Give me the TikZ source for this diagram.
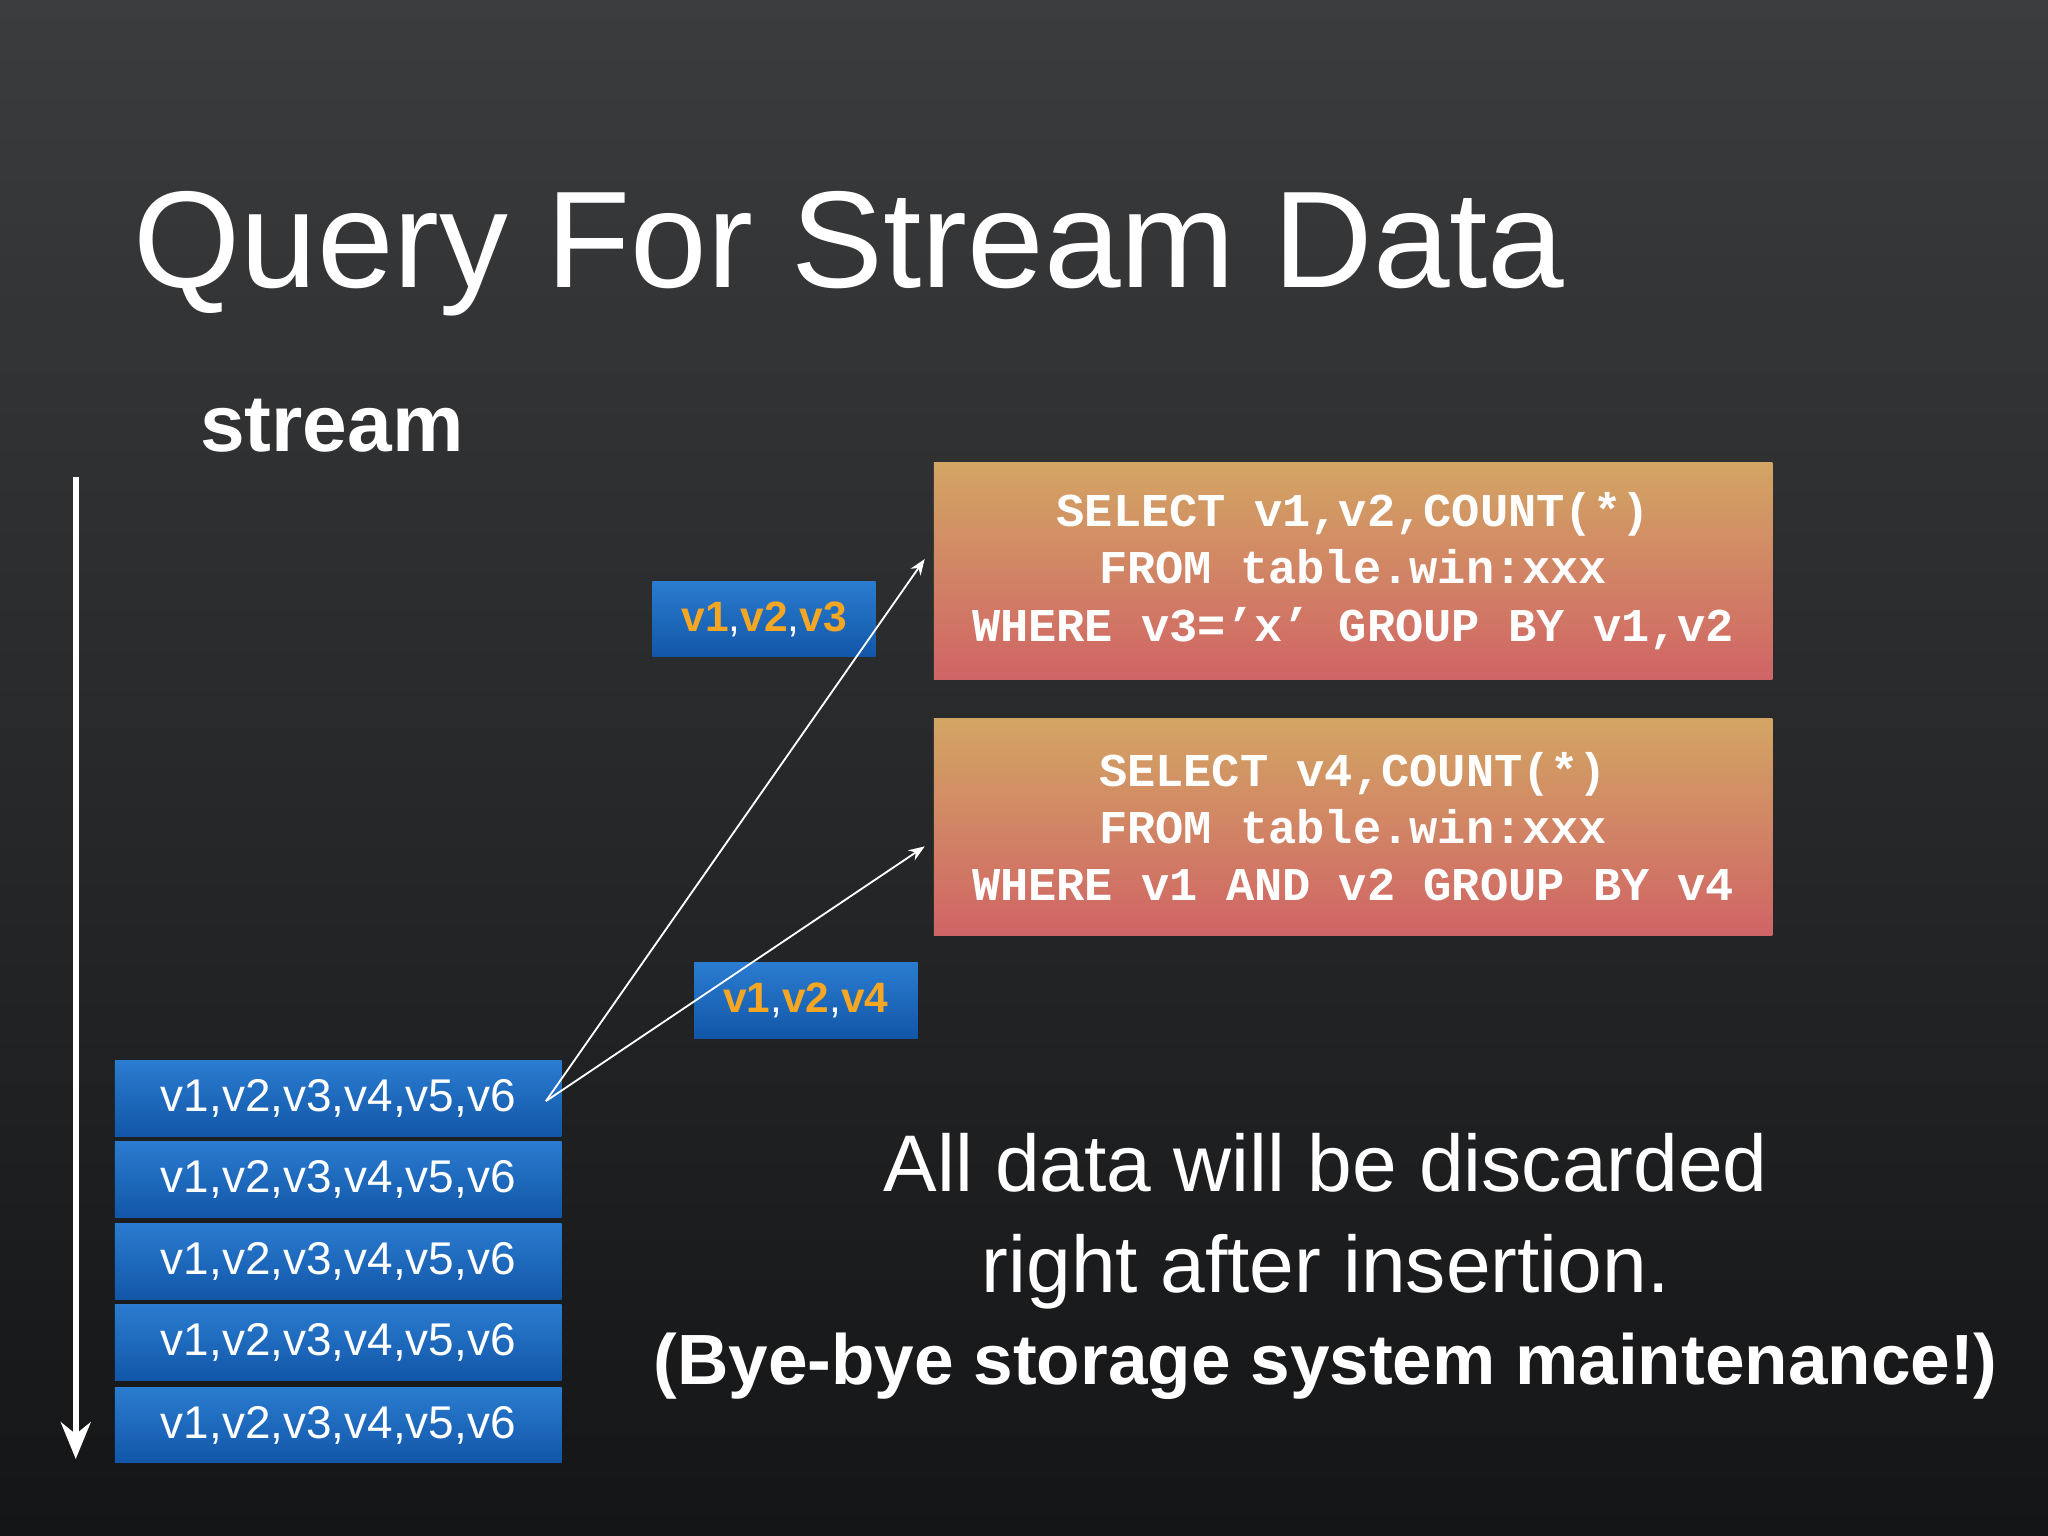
\documentclass[tikz,border=0pt]{standalone}
\usepackage{fontspec}
\setmainfont{Liberation Sans}
\newfontfamily\codefont{Liberation Mono}
\usetikzlibrary{arrows.meta}
\definecolor{bgtop}{HTML}{3A3C3E}
\definecolor{bgbot}{HTML}{141516}
\definecolor{bluea}{HTML}{2A7CD0}
\definecolor{blueb}{HTML}{1256A8}
\definecolor{sqltop}{HTML}{D3A564}
\definecolor{sqlbot}{HTML}{D06465}
\definecolor{vorange}{HTML}{F5A623}
\tikzset{
  x=0.02cm,y=-0.02cm,
  rowbox/.style={minimum width=6.84cm,minimum height=1.16cm,top color=bluea,bottom color=blueb,draw=none,text=white,inner sep=0pt,font=\fontsize{20}{20}\selectfont},
  tagbox/.style={minimum width=3.42cm,minimum height=1.16cm,top color=bluea,bottom color=blueb,draw=none,inner sep=0pt,font=\fontsize{18.5}{18.5}\selectfont},
  sqlbox/.style={minimum width=12.84cm,minimum height=3.32cm,top color=sqltop,bottom color=sqlbot,draw=none,text=white,align=center,inner sep=0pt,font=\codefont\bfseries\fontsize{20.5}{25}\selectfont},
  flow/.style={draw=white,line width=0.8pt,-{Stealth[length=7pt]}},
}
\newcommand{\vo}[1]{\textcolor{vorange}{\bfseries #1}}
\begin{document}
\begin{tikzpicture}
\shade[top color=bgtop,bottom color=bgbot] (0,0) rectangle (1568,1176);
\useasboundingbox (0,0) rectangle (1568,1176);
\node[anchor=base west,text=white,inner sep=0pt,font=\fontsize{60}{60}\selectfont] (title) at (102,220) {Query For Stream Data};
\node[anchor=base west,text=white,inner sep=0pt,font=\bfseries\fontsize{35}{35}\selectfont] (stream) at (153,346) {stream};
\coordinate (ta) at (58,365);
\coordinate (tb) at (58,1117);
\draw[white,line width=2.5pt,-{Stealth[length=16pt,width=13pt]}] (ta) -- (tb);
\node[rowbox] (r1) at (259,841) {v1,v2,v3,v4,v5,v6};
\node[rowbox] (r2) at (259,903) {v1,v2,v3,v4,v5,v6};
\node[rowbox] (r3) at (259,966) {v1,v2,v3,v4,v5,v6};
\node[rowbox] (r4) at (259,1028) {v1,v2,v3,v4,v5,v6};
\node[rowbox] (r5) at (259,1091) {v1,v2,v3,v4,v5,v6};
\node[sqlbox] (q1) at (1036,437) {SELECT v1,v2,COUNT(*)\\FROM table.win:xxx\\WHERE v3=’x’ GROUP BY v1,v2};
\node[sqlbox] (q2) at (1036,633) {SELECT v4,COUNT(*)\\FROM table.win:xxx\\WHERE v1 AND v2 GROUP BY v4};
\node[tagbox,text=white] (t1) at (585,474) {\vo{v1},\vo{v2},\vo{v3}};
\node[tagbox,text=white] (t2) at (617,766) {\vo{v1},\vo{v2},\vo{v4}};
\coordinate (src) at (418,843);
\coordinate (e1) at (708,428);
\coordinate (e2) at (708,648);
\draw[flow] (src) -- (e1);
\draw[flow] (src) -- (e2);
\node[text=white,align=center,inner sep=0pt,font=\fontsize{35}{44}\selectfont] (msg) at (1015,935) {All data will be discarded\\right after insertion.};
\node[text=white,inner sep=0pt,font=\bfseries\fontsize{31}{31}\selectfont] (bye) at (1015,1046) {(Bye-bye storage system maintenance!)};
\end{tikzpicture}
\end{document}
